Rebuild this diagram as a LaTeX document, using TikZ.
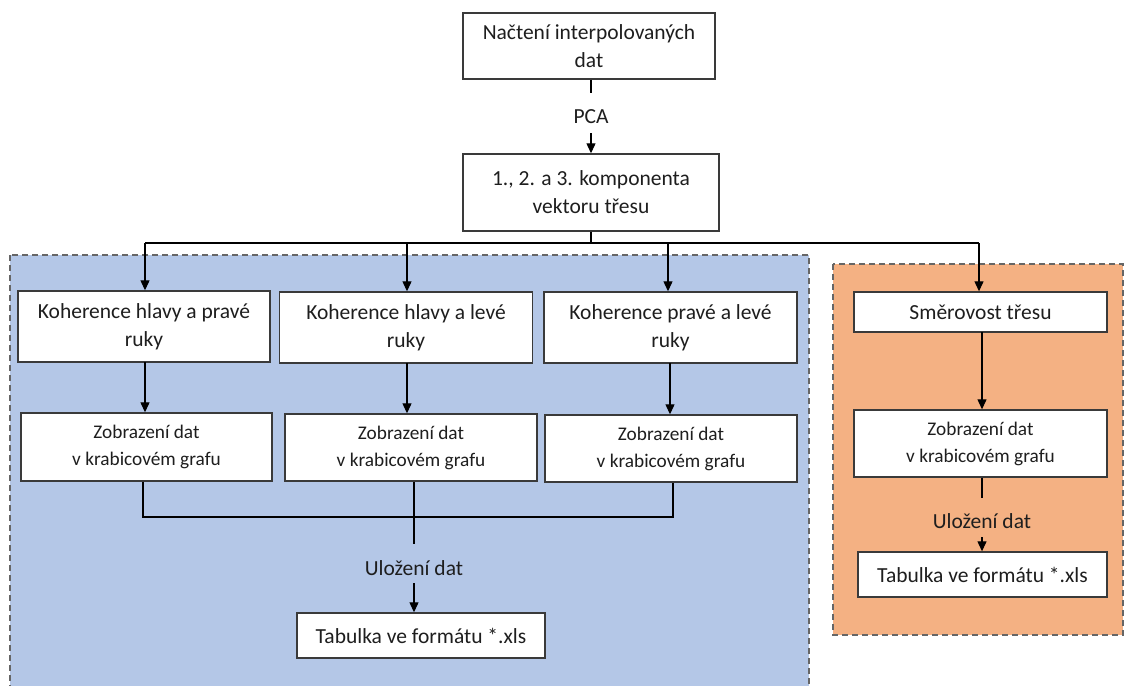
\documentclass[tikz,border=0pt]{standalone}
\usepackage{fontspec}
\setmainfont{Carlito}
\usetikzlibrary{arrows.meta}
\definecolor{bluefill}{HTML}{B4C7E7}
\definecolor{orangefill}{HTML}{F4B183}
\definecolor{dashgray}{HTML}{666666}
\definecolor{boxline}{HTML}{3A3A3A}
\definecolor{txt}{HTML}{1E1E1E}
\tikzset{
  bigtext/.style={font=\fontsize{21.5}{28}\selectfont, text=txt},
  smalltext/.style={font=\fontsize{19.3}{27}\selectfont, text=txt},
  box/.style={draw=boxline, fill=white, line width=1.4pt, inner sep=0pt, align=center},
  label/.style={bigtext, inner sep=0pt, align=center},
  region/.style={draw=dashgray, line width=1.6pt, dash pattern=on 6pt off 4pt},
  conn/.style={draw=black, line width=1.2pt},
  arr/.style={conn, -{Triangle[length=10pt,width=9pt]}},
}
\begin{document}
\begin{tikzpicture}[x=1pt,y=-1pt]
\useasboundingbox (0,0) rectangle (1126,685);
\clip (0,0) rectangle (1126,685);
\fill[white] (0,0) rectangle (1126,685);
% regions
\draw[region, fill=bluefill] (10,255) rectangle (809,705);
\draw[region, fill=orangefill] (833,264) rectangle (1123,635);

% nodes
\node[box, bigtext, minimum width=252pt, minimum height=66pt] (n1) at (589,46) {Načtení interpolovaných\\dat};
\node[box, bigtext, minimum width=256pt, minimum height=77pt] (n2) at (591,192.5) {1., 2. a 3. komponenta\\vektoru třesu};
\node[label] (pca) at (591,117) {PCA};

\node[box, bigtext, minimum width=252pt, minimum height=71pt] (a1) at (144,326.5) {Koherence hlavy a pravé\\ruky};
\node[box, bigtext, minimum width=253pt, minimum height=71pt] (b1) at (406,327.5) {Koherence hlavy a levé\\ruky};
\node[box, bigtext, minimum width=253pt, minimum height=71pt] (c1) at (670.5,327.5) {Koherence pravé a levé\\ruky};

\node[box, smalltext, minimum width=251pt, minimum height=68pt] (a2) at (146.5,447) {Zobrazení dat\\v krabicovém grafu};
\node[box, smalltext, minimum width=252pt, minimum height=67pt] (b2) at (411,447.5) {Zobrazení dat\\v krabicovém grafu};
\node[box, smalltext, minimum width=252pt, minimum height=67pt] (c2) at (671,448.5) {Zobrazení dat\\v krabicovém grafu};

\node[label] (ul1) at (414,568) {Uložení dat};
\node[box, bigtext, minimum width=248pt, minimum height=45pt] (t1) at (421,635.5) {Tabulka ve formátu *.xls};

\node[box, bigtext, minimum width=253pt, minimum height=40pt] (d1) at (980.5,312) {Směrovost třesu};
\node[box, smalltext, minimum width=253pt, minimum height=67pt] (d2) at (980.5,443.5) {Zobrazení dat\\v krabicovém grafu};
\node[label] (ul2) at (982,521) {Uložení dat};
\node[box, bigtext, minimum width=249pt, minimum height=45pt] (t2) at (982.5,574.5) {Tabulka ve formátu *.xls};

% coordinates
\coordinate (stub1) at (591,93);
\coordinate (pcaend) at (591,133);
\coordinate (bus) at (591,243);
\coordinate (busL) at (145,243);
\coordinate (busR) at (979,243);
\coordinate (busB) at (407,243);
\coordinate (busC) at (668,243);
\coordinate (midA) at (145,362);
\coordinate (midB) at (407,363);
\coordinate (midC) at (670,363);
\coordinate (midD) at (982,332);
\coordinate (collL) at (143,517);
\coordinate (collR) at (673,517);
\coordinate (stub2) at (414,544);
\coordinate (ularr) at (414,583);
\coordinate (stub3) at (982,498);
\coordinate (ularr2) at (982,537);

% connectors top
\draw[conn] (n1.south -| stub1) -- (stub1);
\draw[arr] (pcaend) -- (pcaend |- n2.north);
\draw[conn] (n2.south -| bus) -- (bus);
\draw[conn] (busL) -- (busR);
\draw[arr] (busL) -- (busL |- a1.north);
\draw[arr] (busB) -- (busB |- b1.north);
\draw[arr] (busC) -- (busC |- c1.north);
\draw[arr] (busR) -- (busR |- d1.north);

% middle arrows
\draw[arr] (midA) -- (midA |- a2.north);
\draw[arr] (midB) -- (midB |- b2.north);
\draw[arr] (midC) -- (midC |- c2.north);
\draw[arr] (midD) -- (midD |- d2.north);

% collection
\draw[conn] (a2.south -| collL) -- (collL) -- (collR) -- (c2.south -| collR);
\draw[conn] (b2.south -| stub2) -- (stub2);
\draw[arr] (ularr) -- (ularr |- t1.north);

% orange bottom
\draw[conn] (d2.south -| stub3) -- (stub3);
\draw[arr] (ularr2) -- (ularr2 |- t2.north);
\end{tikzpicture}
\end{document}
